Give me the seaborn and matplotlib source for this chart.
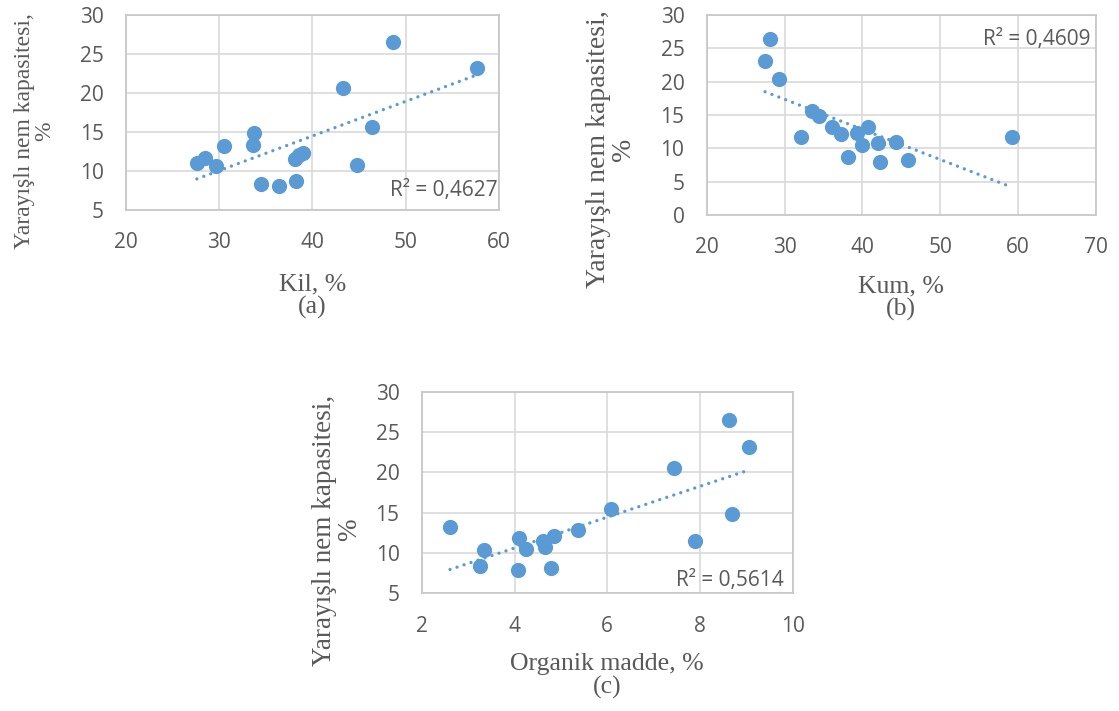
import matplotlib
matplotlib.use("Agg")
import matplotlib.pyplot as plt
import seaborn as sns
import pandas as pd

# (a) Kil
kil = [27.6, 28.5, 29.7, 30.5, 33.75, 33.6, 34.5, 36.4, 38.2, 38.1, 38.6, 39.0, 43.3, 44.8, 46.4, 48.6, 57.6]
ynk_a = [11.0, 11.7, 10.7, 13.2, 14.9, 13.3, 8.4, 8.1, 8.7, 11.6, 12.0, 12.3, 20.6, 10.8, 15.7, 26.5, 23.2]

# (b) Kum
kum = [28.1, 27.5, 29.3, 32.1, 33.5, 34.4, 36.1, 37.3, 38.2, 39.3, 40.75, 40.0, 42.0, 42.2, 44.3, 45.9, 59.2]
ynk_b = [26.4, 23.1, 20.4, 11.7, 15.6, 14.85, 13.15, 12.15, 8.75, 12.25, 13.25, 10.5, 10.75, 8.0, 11.0, 8.25, 11.65]

# (c) Organik madde
om = [2.61, 3.35, 3.26, 4.08, 4.10, 4.24, 4.62, 4.66, 4.85, 4.79, 5.36, 6.07, 7.44, 7.89, 8.62, 8.69, 9.06]
ynk_c = [13.25, 10.4, 8.4, 7.9, 11.9, 10.45, 11.5, 10.8, 12.1, 8.1, 12.9, 15.5, 20.5, 11.5, 26.5, 14.8, 23.2]

r2_texts = ["R² = 0,4627", "R² = 0,4609", "R² = 0,5614"]
xlabels = ["Kil, %\n(a)", "Kum, %\n(b)", "Organik madde, %\n(c)"]
ylabel = "Yarayışlı nem kapasitesi,\n%"

sns.set_theme(style="whitegrid")
plt.rcParams["font.family"] = ["Open Sans", "DejaVu Sans"]

BLUE = "#5B9BD5"
GREY = "#595959"

fig = plt.figure(figsize=(11.19, 7.11), dpi=100)
ax_a = fig.add_axes([0.1126, 0.7046, 0.3333, 0.2743])
ax_b = fig.add_axes([0.6315, 0.6976, 0.3480, 0.2813])
ax_c = fig.add_axes([0.3769, 0.1655, 0.3316, 0.2835])

panels = [
    (ax_a, kil, ynk_a, (20, 60), range(20, 61, 10), (5, 30), (0.997, 0.10), (-0.245, 0.405), -0.323, 17),
    (ax_b, kum, ynk_b, (20, 70), range(20, 71, 10), (0, 30), (0.985, 0.88), (-0.246, 0.33), -0.30, 20),
    (ax_c, om, ynk_c, (2, 10), range(2, 11, 2), (5, 30), (0.975, 0.066), (-0.228, 0.314), -0.296, 19.5),
]

for i, (ax, xs, ys, xlim, xt, ylim, r2pos, ylpos, xly, ylsize) in enumerate(panels):
    df = pd.DataFrame({"x": xs, "y": ys})
    sns.regplot(data=df, x="x", y="y", ax=ax, scatter=False, ci=None,
                line_kws=dict(color=BLUE, lw=2.4, linestyle=(0, (0.01, 2.2)),
                              dash_capstyle="round"))
    sns.scatterplot(data=df, x="x", y="y", ax=ax, color=BLUE, s=120,
                    linewidth=0, zorder=3)
    ax.set_xlim(*xlim)
    ax.set_ylim(*ylim)
    ax.set_xticks(list(xt))
    ax.set_yticks(list(range(ylim[0], ylim[1] + 1, 5)))
    ax.grid(True, color="#D9D9D9", lw=1.2)
    for sp in ax.spines.values():
        sp.set_color("#C8C8C8")
        sp.set_linewidth(1.3)
    ax.tick_params(axis="x", length=0, pad=16, labelsize=15, labelcolor=GREY)
    ax.tick_params(axis="y", length=0, pad=16, labelsize=15, labelcolor=GREY)

    ax.set_xlabel(xlabels[i], fontsize=18.5, color=GREY,
                  family=["Liberation Serif", "DejaVu Serif"], linespacing=1.05)
    ax.xaxis.set_label_coords(0.5, xly)
    ax.xaxis.label.set_va("top")

    ax.set_ylabel(ylabel, fontsize=ylsize, color=GREY,
                  family=["Liberation Serif", "DejaVu Serif"], linespacing=1.0)
    ax.yaxis.label.set_va("center")
    ax.yaxis.set_label_coords(*ylpos)

    ax.text(r2pos[0], r2pos[1], r2_texts[i], transform=ax.transAxes,
            ha="right", va="center", fontsize=15, color=GREY)

fig.savefig("out.png", dpi=100, facecolor="white")
